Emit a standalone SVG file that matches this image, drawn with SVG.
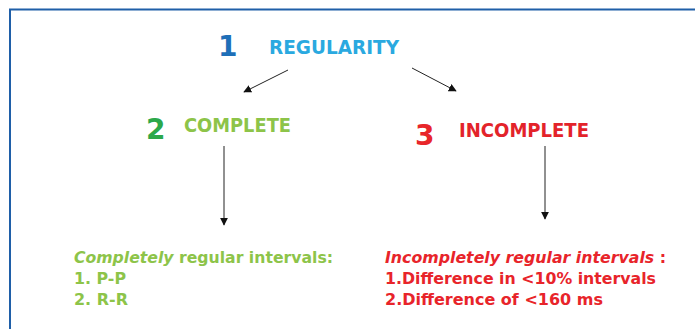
<svg xmlns="http://www.w3.org/2000/svg" width="695" height="329" viewBox="0 0 695 329">
<defs>
<style>
.t{font-family:"DejaVu Sans","Verdana",sans-serif;font-weight:bold}
.num{font-family:"DejaVu Sans","Verdana",sans-serif;font-weight:bold;font-size:28px}
.lbl{font-size:20px}
.body{font-size:15px}
.conn{stroke:#222;stroke-width:1;fill:none;marker-end:url(#ah)}
</style>
<marker id="ah" viewBox="0 0 10 10" refX="9" refY="5" markerWidth="8" markerHeight="8" markerUnits="userSpaceOnUse" orient="auto">
<path d="M0,0 L10,5 L0,10 z" fill="#111"/>
</marker>
</defs>
<rect width="695" height="329" fill="#fff"/>
<path d="M10,329 L10,9.5 L695,9.5" fill="none" stroke="#1f5fa8" stroke-width="2"/>
<g id="n1">
<text class="num" x="218" y="56" fill="#1e6fb8">1</text>
<text class="t lbl" x="269" y="54" fill="#2aa9e0" textLength="130" lengthAdjust="spacingAndGlyphs">REGULARITY</text>
</g>
<g id="n2">
<text class="num" x="146" y="139" fill="#2ca84a">2</text>
<text class="t lbl" x="184" y="132" fill="#8dc449" textLength="107" lengthAdjust="spacingAndGlyphs">COMPLETE</text>
</g>
<g id="n3">
<text class="num" x="415" y="145" fill="#e8262a">3</text>
<text class="t lbl" x="459" y="137" fill="#e3232a" textLength="130" lengthAdjust="spacingAndGlyphs">INCOMPLETE</text>
</g>
<g id="n4">
<text class="t body" x="74" y="263" fill="#8dc449" textLength="259" lengthAdjust="spacingAndGlyphs"><tspan font-style="italic">Completely</tspan> regular intervals:</text>
<text class="t body" x="74" y="284" fill="#8dc449" textLength="52" lengthAdjust="spacingAndGlyphs">1. P-P</text>
<text class="t body" x="74" y="305" fill="#8dc449" textLength="54" lengthAdjust="spacingAndGlyphs">2. R-R</text>
</g>
<g id="n5">
<text class="t body" x="385" y="263" fill="#e8242a" textLength="281" lengthAdjust="spacingAndGlyphs"><tspan font-style="italic">Incompletely regular intervals</tspan> :</text>
<text class="t body" x="385" y="284" fill="#e8242a" textLength="271" lengthAdjust="spacingAndGlyphs">1.Difference in &lt;10% intervals</text>
<text class="t body" x="385" y="305" fill="#e8242a" textLength="218" lengthAdjust="spacingAndGlyphs">2.Difference of &lt;160 ms</text>
</g>
<g id="connectors">
<line class="conn" x1="288" y1="70" x2="244" y2="92"/>
<line class="conn" x1="412" y1="68" x2="456" y2="91"/>
<line class="conn" x1="224" y1="146" x2="224" y2="225"/>
<line class="conn" x1="545" y1="146" x2="545" y2="219"/>
</g>
</svg>
